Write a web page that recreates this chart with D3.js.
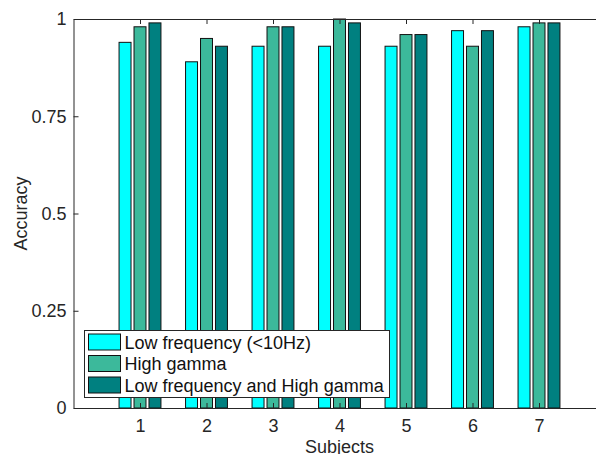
<!DOCTYPE html>
<html>
<head>
<meta charset="utf-8">
<script src="https://cdn.jsdelivr.net/npm/d3@7"></script>
<style>
  body { margin: 0; background: #fff; }
  svg { display: block; font-family: "Liberation Sans", Arial, sans-serif; }
</style>
</head>
<body>
<svg></svg>
<script>
// chart data
const subjects = [1, 2, 3, 4, 5, 6, 7];
const lowFreq = [0.94, 0.89, 0.93, 0.93, 0.93, 0.97, 0.98];
const highGamma = [0.98, 0.95, 0.98, 1.00, 0.96, 0.93, 0.99];
const combined = [0.99, 0.93, 0.98, 0.99, 0.96, 0.97, 0.99];
const seriesNames = ["Low frequency (<10Hz)", "High gamma", "Low frequency and High gamma"];
const seriesColors = ["#00ffff", "#3cb99b", "#008080"];
const yTicks = [0, 0.25, 0.5, 0.75, 1];

const width = 596, height = 454;
const margin = { left: 73.5, top: 19, right: -9.5, bottom: 46 };

const svg = d3.select("svg")
  .attr("width", width)
  .attr("height", height);

const x = d3.scaleLinear()
  .domain([0, 8])
  .range([margin.left, width - margin.right]);

const y = d3.scaleLinear()
  .domain([0, 1])
  .range([height - margin.bottom, margin.top]);

const series = [lowFreq, highGamma, combined];
const offset = 0.225, barW = 0.18;
const axisColor = "#262626";

// bars
series.forEach((vals, s) => {
  svg.append("g").selectAll("rect")
    .data(vals)
    .enter().append("rect")
    .attr("x", (d, i) => x(subjects[i] + (s - 1) * offset - barW / 2))
    .attr("width", x(barW) - x(0))
    .attr("y", d => y(d))
    .attr("height", d => y(0) - y(d))
    .attr("fill", seriesColors[s])
    .attr("stroke", "#111")
    .attr("stroke-width", 1);
});

// axes
const xAxis = d3.axisBottom(x).tickValues(subjects).tickSize(-5).tickPadding(11).tickSizeOuter(0);
const gx = svg.append("g")
  .attr("transform", `translate(0,${y(0)})`)
  .call(xAxis);

const gxTop = svg.append("g")
  .attr("transform", `translate(0,${y(1)})`)
  .call(d3.axisTop(x).tickValues(subjects).tickSize(-5).tickFormat("").tickSizeOuter(0));

const yAxis = d3.axisLeft(y).tickValues(yTicks).tickSize(-5).tickPadding(7).tickSizeOuter(0)
  .tickFormat(d => d3.format("")(d));
const gy = svg.append("g")
  .attr("transform", `translate(${margin.left},0)`)
  .call(yAxis);

[gx, gxTop, gy].forEach(g => {
  g.selectAll("path, line").attr("stroke", axisColor).attr("stroke-width", 1);
  g.selectAll("text").attr("fill", axisColor).style("font-size", "18px")
    .style("font-family", "'Liberation Sans', Arial, sans-serif");
});

// axis labels
svg.append("text")
  .attr("x", x(4))
  .attr("y", 453)
  .attr("text-anchor", "middle")
  .attr("fill", axisColor)
  .style("font-size", "18px")
  .text("Subjects");

svg.append("text")
  .attr("transform", `translate(27,${y(0.5)}) rotate(-90)`)
  .attr("text-anchor", "middle")
  .attr("fill", axisColor)
  .style("font-size", "18px")
  .text("Accuracy");

// legend
const legend = svg.append("g").attr("transform", "translate(84.5,330.5)");
legend.append("rect")
  .attr("width", 305)
  .attr("height", 67)
  .attr("fill", "#fff")
  .attr("stroke", axisColor)
  .attr("stroke-width", 1);

const item = legend.selectAll("g.item")
  .data(seriesNames)
  .enter().append("g")
  .attr("class", "item")
  .attr("transform", (d, i) => `translate(4,${3.5 + i * 21.5})`);

item.append("rect")
  .attr("width", 32)
  .attr("height", 16)
  .attr("fill", (d, i) => seriesColors[i])
  .attr("stroke", "#111");

item.append("text")
  .attr("x", 36)
  .attr("y", 14.5)
  .attr("fill", "#111")
  .style("font-size", "18px")
  .text(d => d);
</script>
</body>
</html>
